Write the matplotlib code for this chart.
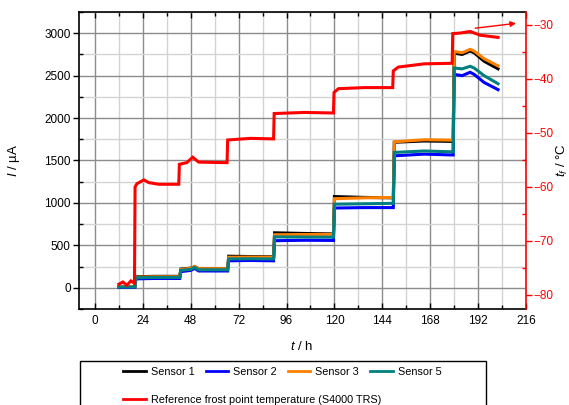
import matplotlib
matplotlib.use("Agg")
import matplotlib.pyplot as plt
from matplotlib.ticker import MultipleLocator
from matplotlib.patches import Rectangle
from matplotlib.lines import Line2D

plt.rcParams['font.family'] = ['Liberation Sans', 'DejaVu Sans']
plt.rcParams['mathtext.fontset'] = 'custom'
plt.rcParams['mathtext.rm'] = 'Liberation Sans'
plt.rcParams['mathtext.it'] = 'Liberation Sans:italic'

# sensor currents (uA)
t_sens = [12, 20, 20.5, 30, 42.5, 43, 48, 50, 52, 66.5, 67, 78, 89.5, 90, 105,
          119.5, 120, 135, 149.5, 150, 165, 179.5, 180, 184, 188, 190, 195, 202]
sensor1 = [15, 15, 130, 135, 135, 220, 232, 248, 225, 225, 372, 368, 365, 648, 640,
           635, 1075, 1065, 1060, 1715, 1730, 1725, 2765, 2750, 2790, 2770, 2670, 2580]
sensor2 = [5, 5, 105, 110, 110, 190, 205, 228, 198, 198, 318, 322, 318, 555, 560,
           558, 940, 945, 945, 1555, 1575, 1565, 2515, 2500, 2540, 2515, 2420, 2335]
sensor3 = [15, 15, 125, 130, 130, 215, 230, 252, 225, 225, 360, 362, 360, 625, 628,
           630, 1050, 1060, 1065, 1720, 1745, 1740, 2785, 2770, 2810, 2790, 2700, 2615]
sensor5 = [10, 10, 118, 122, 122, 205, 218, 240, 212, 212, 340, 342, 340, 600, 598,
           596, 985, 990, 995, 1595, 1612, 1602, 2590, 2580, 2610, 2590, 2500, 2405]

# reference frost point temperature (degC)
t_ref = [12, 14, 16, 18, 19.8, 20.1, 21, 24.5, 27, 32, 42, 42.3, 46, 49, 52, 66.2,
         66.5, 78, 89.5, 89.8, 105, 119.5, 119.8, 122, 135, 149.2, 149.5, 152,
         165, 179, 179.3, 183, 188, 193, 202]
t_frost = [-78.0, -77.6, -78.2, -77.4, -77.8, -60.0, -59.4, -58.7, -59.2, -59.5,
           -59.5, -55.8, -55.5, -54.5, -55.4, -55.5, -51.3, -51.0, -51.1, -46.4,
           -46.2, -46.3, -42.5, -41.8, -41.6, -41.6, -38.5, -37.8, -37.2, -37.1,
           -31.6, -31.5, -31.2, -31.9, -32.3]

labels = ["Sensor 1", "Sensor 2", "Sensor 3", "Sensor 5"]
colors = ["black", "#0000ff", "#ff8000", "#008080"]
ref_label = "Reference frost point temperature (S4000 TRS)"

fig = plt.figure(figsize=(5.69, 4.05), dpi=100)
ax = fig.add_axes([79/569, 1-309/405, (526-79)/569, (309-12)/405])
ax2 = ax.twinx()

for y, c in zip([sensor1, sensor2, sensor3, sensor5], colors):
    ax.plot(t_sens, y, color=c, lw=2.2, solid_joinstyle='miter')
ax2.plot(t_ref, t_frost, color='red', lw=2.2, solid_joinstyle='miter')
ax.set_zorder(1)
ax.patch.set_visible(False)
ax2.set_zorder(2)

ax.set_xlim(-8, 216)
ax.set_ylim(-250, 3250)
ax2.set_ylim(-82.6, -27.6)

ax.xaxis.set_major_locator(MultipleLocator(24))
ax.xaxis.set_minor_locator(MultipleLocator(12))
ax.yaxis.set_major_locator(MultipleLocator(500))
ax.yaxis.set_minor_locator(MultipleLocator(250))
ax2.yaxis.set_major_locator(MultipleLocator(10))
ax2.yaxis.set_minor_locator(MultipleLocator(5))

ax.grid(which='major', color='#8c8c8c', lw=1.0)
ax.grid(which='minor', color='#d4d4d4', lw=1.0)
ax.set_axisbelow(True)

ax.tick_params(axis='x', which='both', direction='in', top=True, bottom=True,
               labelsize=8.5, colors='black', width=1)
ax.tick_params(axis='x', which='major', length=4, pad=4)
ax.tick_params(axis='x', which='minor', length=3)
ax.tick_params(axis='y', which='major', direction='out', length=4, width=1,
               labelsize=8.5, right=False, pad=2)
ax.tick_params(axis='y', which='minor', direction='in', length=3, width=1, right=False)
ax2.tick_params(axis='y', which='major', direction='out', length=4, width=1,
                labelsize=8.5, colors='red', pad=1.5)
ax2.tick_params(axis='y', which='minor', direction='in', length=3, width=1, colors='red')

for s in ['left', 'top', 'bottom']:
    ax.spines[s].set_linewidth(1.2)
ax.spines['right'].set_visible(False)
for s in ['left', 'top', 'bottom']:
    ax2.spines[s].set_visible(False)
ax2.spines['right'].set_color('red')
ax2.spines['right'].set_linewidth(1.2)

ax.set_xlabel(r'$t$ / h', fontsize=9.5)
ax.set_ylabel(r'$I$ / µA', fontsize=9.5)
ax2.set_ylabel(r'$t_{f}$ / °C', fontsize=9.5, rotation=90)
ax.xaxis.set_label_coords((302-79)/447, (309-340)/297)
ax.yaxis.set_label_coords((22-79)/447, 0.5)
ax2.yaxis.set_label_coords((555-79)/447, 0.5)

# arrow pointing to the temperature axis
ax2.annotate('', xy=(211, -29.7), xytext=(190.5, -30.6),
             arrowprops=dict(arrowstyle='-|>', color='red', lw=1.0,
                             mutation_scale=8, shrinkA=0, shrinkB=0))

# legend box below the plot
fig.patches.append(Rectangle((80/569, -0.1), (486-80)/569, 0.1 + 1-361/405,
                             transform=fig.transFigure, fill=False,
                             edgecolor='black', lw=1.0))
handles = [Line2D([], [], color=c, lw=2) for c in colors]
fig.legend(handles, labels, loc='center left', ncol=4, frameon=False,
           bbox_to_anchor=(118/569, 1-372/405), borderpad=0, fontsize=7.8,
           handlelength=2.1, handletextpad=0.45, columnspacing=1.0)
fig.legend([Line2D([], [], color='red', lw=2)], [ref_label], loc='center left',
           frameon=False, bbox_to_anchor=(118/569, 1-400/405), borderpad=0,
           fontsize=7.8, handlelength=2.1, handletextpad=0.45)

fig.savefig("out.png", dpi=100)
